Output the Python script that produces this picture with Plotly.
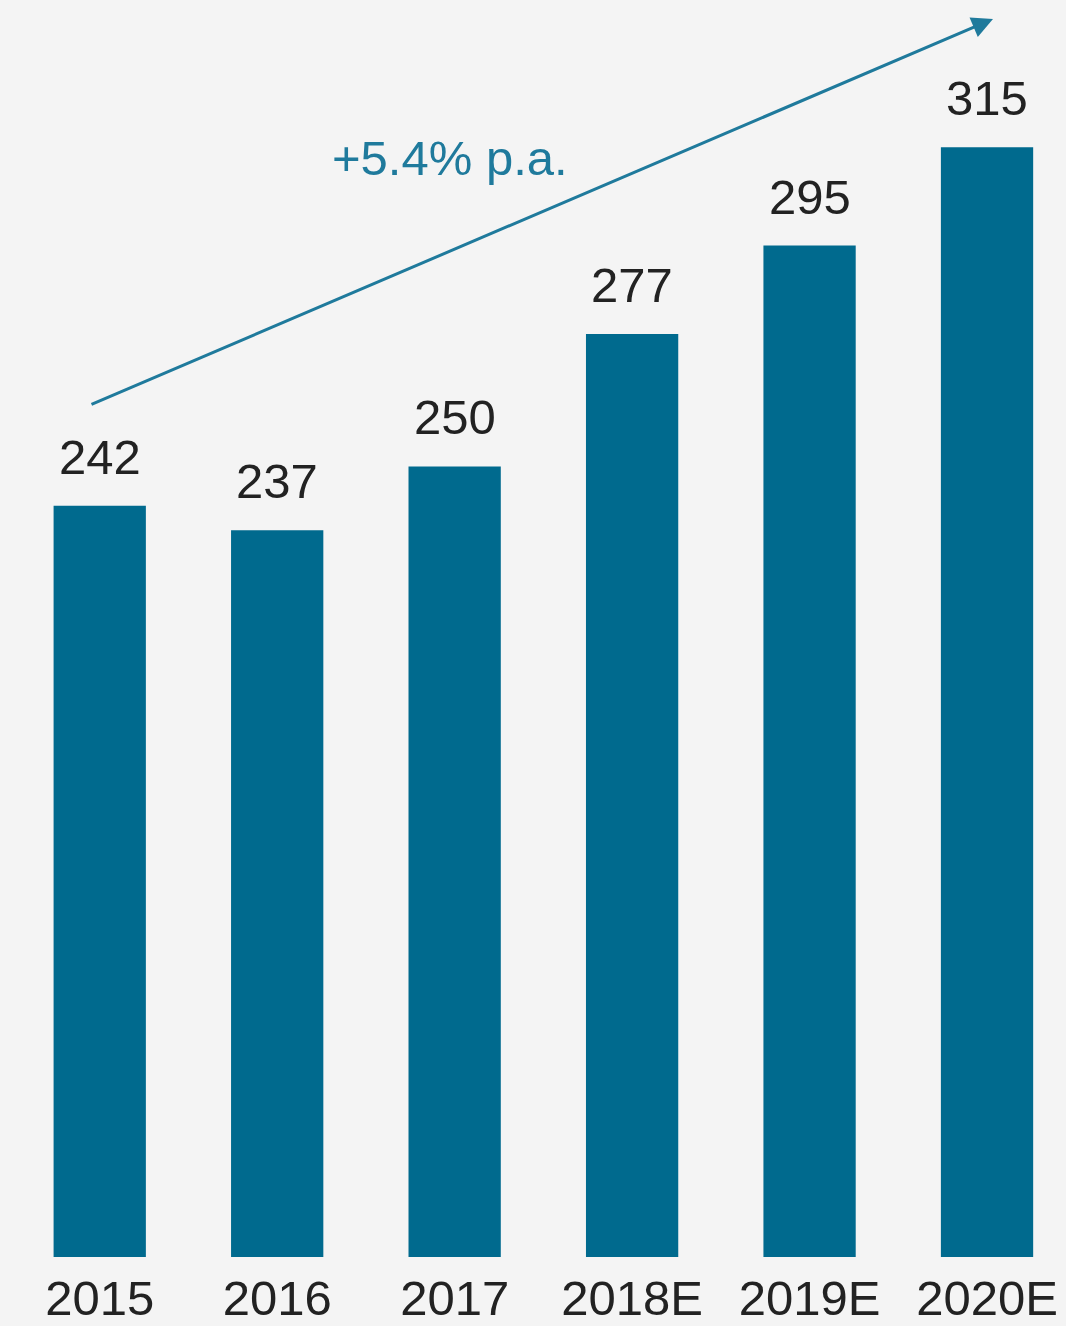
import plotly.graph_objects as go

categories = ["2015", "2016", "2017", "2018E", "2019E", "2020E"]
values = [242, 237, 250, 277, 295, 315]
growth_label = "+5.4% p.a."

BAR = "#006a8e"
TEXT = "#222222"
TEAL = "#1f7a9c"
BG = "#f4f4f4"
FONT = "Liberation Sans, Arial, sans-serif"

W, H = 1066, 1326
M_L, M_R, M_T, M_B = 11, 0, 0, 69
plot_h = H - M_T - M_B

fig = go.Figure()
fig.add_trace(go.Bar(
    x=categories, y=values,
    marker=dict(color=BAR, line=dict(width=0)),
    width=0.52,
    hoverinfo="x+y",
))

for i, v in enumerate(values):
    fig.add_annotation(
        x=i, y=v, xref="x", yref="y",
        text=str(v), showarrow=False,
        yanchor="bottom", yshift=20,
        font=dict(family=FONT, size=49, color=TEXT),
    )

# growth arrow (paper coords for the tip, pixel offset for the tail)
tip_px = (993, 19)
tail_px = (90, 405)
def px_to_paper(px, py):
    return ((px - M_L) / (W - M_L - M_R), 1 - (py - M_T) / plot_h)

tx, ty = px_to_paper(*tip_px)
fig.add_annotation(
    x=tx, y=ty, xref="paper", yref="paper",
    ax=tail_px[0] - tip_px[0], ay=tail_px[1] - tip_px[1],
    axref="pixel", ayref="pixel",
    text="", showarrow=True,
    arrowhead=2, arrowsize=1.4, arrowwidth=3, arrowcolor=TEAL,
)

gx, gy = px_to_paper(450, 158)
fig.add_annotation(
    x=gx, y=gy, xref="paper", yref="paper",
    text=growth_label, showarrow=False,
    xanchor="center", yanchor="middle",
    font=dict(family=FONT, size=49, color=TEAL),
)

fig.update_layout(
    width=W, height=H,
    margin=dict(l=M_L, r=M_R, t=M_T, b=M_B),
    paper_bgcolor=BG, plot_bgcolor=BG,
    showlegend=False,
    bargap=0.48,
    xaxis=dict(
        type="category", range=[-0.5, 5.445],
        showgrid=False, zeroline=False, showline=False,
        ticks="", ticklabelstandoff=8,
        tickfont=dict(family=FONT, size=49, color=TEXT),
    ),
    yaxis=dict(
        range=[89, 345], visible=False, showgrid=False, zeroline=False,
    ),
)

fig.write_html(
    "out.html",
    config={"displayModeBar": False},
    post_script="document.body.style.margin='0';document.body.style.background='%s';" % BG,
)
